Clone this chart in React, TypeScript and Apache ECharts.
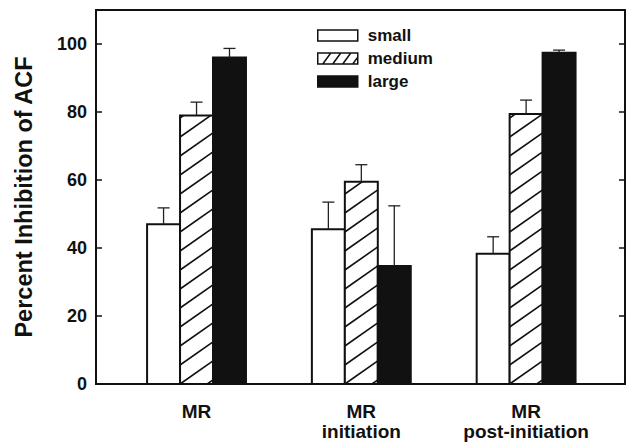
import { useEffect, useRef } from 'react';
import * as echarts from 'echarts';

const categories = ['MR', 'MR\ninitiation', 'MR\npost-initiation'];
const sizeNames = ['small', 'medium', 'large'];
const smallValues = [47, 45.5, 38.3];
const smallErrors = [4.8, 8, 5];
const mediumValues = [79, 59.5, 79.4];
const mediumErrors = [3.9, 5, 4.1];
const largeValues = [96, 34.7, 97.4];
const largeErrors = [2.7, 17.7, 0.8];

const seriesValues = [smallValues, mediumValues, largeValues];
const seriesErrors = [smallErrors, mediumErrors, largeErrors];

const SLOT = 0.2;
const FONT = '"Liberation Sans", Arial, Helvetica, sans-serif';
const INK = '#111';

function makeRender(sizeIndex: number) {
  return (params: any, api: any) => {
    const x = api.value(0);
    const v = api.value(1);
    const e = api.value(2);
    const c = x + (sizeIndex - 1) * SLOT;
    const tl = api.coord([c - SLOT / 2, v]);
    const br = api.coord([c + SLOT / 2, 0]);
    const top = api.coord([c, v + e]);
    const x0 = tl[0], x1 = br[0], y0 = tl[1], y1 = br[1];
    const children: any[] = [];
    children.push({
      type: 'rect',
      shape: { x: x0, y: y0, width: x1 - x0, height: y1 - y0 },
      style: { fill: sizeIndex === 2 ? INK : '#fff', stroke: INK, lineWidth: 2 },
    });
    if (sizeIndex === 1) {
      const k = 0.7;
      const sp = 19;
      const w = x1 - x0;
      for (let cc = y1 + Math.ceil((k * w) / sp) * sp; cc >= y0; cc -= sp) {
        const xa = Math.max(x0, x0 + (cc - y1) / k);
        const xb = Math.min(x1, x0 + (cc - y0) / k);
        if (xb - xa > 0.5) {
          children.push({
            type: 'line',
            shape: { x1: xa, y1: cc - k * (xa - x0), x2: xb, y2: cc - k * (xb - x0) },
            style: { stroke: INK, lineWidth: 1.6 },
          });
        }
      }
    }
    children.push({
      type: 'line',
      shape: { x1: top[0], y1: y0, x2: top[0], y2: top[1] },
      style: { stroke: '#222', lineWidth: 1.3 },
    });
    children.push({
      type: 'line',
      shape: { x1: top[0] - 6, y1: top[1], x2: top[0] + 6, y2: top[1] },
      style: { stroke: '#222', lineWidth: 1.3 },
    });
    return { type: 'group', children };
  };
}

const hatchIcon =
  'path://M0,0H40V11H0Z M5,11L13,0 M15,11L23,0 M25,11L33,0 M35,11L40,4.1';

export default function App() {
  const ref = useRef<HTMLDivElement>(null);
  useEffect(() => {
    if (!ref.current) return;
    const chart = echarts.init(ref.current, null, { renderer: 'svg' });
    const option: any = {
      animation: false,
      backgroundColor: '#fff',
      grid: {
        left: 96,
        right: 4,
        top: 10,
        bottom: 63,
        show: true,
        borderColor: INK,
        borderWidth: 2,
        backgroundColor: 'transparent',
      },
      legend: {
        orient: 'vertical',
        left: 312,
        top: 22,
        itemWidth: 40,
        itemHeight: 11,
        itemGap: 6,
        textStyle: {
          fontFamily: FONT,
          fontWeight: 'bold',
          fontSize: 17,
          color: INK,
          padding: [0, 0, 0, 5],
        },
        data: [
          { name: 'small', icon: 'rect', itemStyle: { color: '#fff', borderColor: INK, borderWidth: 1.5 } },
          { name: 'medium', icon: hatchIcon, itemStyle: { color: '#fff', borderColor: INK, borderWidth: 1.5 } },
          { name: 'large', icon: 'rect', itemStyle: { color: INK, borderColor: INK, borderWidth: 1.5 } },
        ],
      },
      xAxis: {
        type: 'value',
        min: 0.39,
        max: 3.6,
        splitLine: { show: false },
        axisTick: { show: false },
        axisLine: { show: true, lineStyle: { color: INK, width: 2 } },
        axisLabel: {
          customValues: [1, 2, 3],
          formatter: (val: number) => categories[Math.round(val) - 1] ?? '',
          margin: 17,
          fontFamily: FONT,
          fontWeight: 'bold',
          fontSize: 19,
          lineHeight: 20,
          color: INK,
        },
      },
      yAxis: [
        {
          type: 'value',
          min: 0,
          max: 110,
          interval: 20,
          splitLine: { show: false },
          axisLine: { show: true, lineStyle: { color: INK, width: 2 } },
          axisTick: { show: true, inside: true, length: 6, lineStyle: { color: INK, width: 1.5 } },
          axisLabel: {
            showMaxLabel: false,
            formatter: (val: number) => (val > 100 ? '' : String(val)),
            margin: 9,
            fontFamily: FONT,
            fontWeight: 'bold',
            fontSize: 18,
            color: INK,
          },
          name: 'Percent Inhibition of ACF',
          nameLocation: 'middle',
          nameRotate: 90,
          nameGap: 60,
          nameTextStyle: {
            fontFamily: FONT,
            fontWeight: 'bold',
            fontSize: 23.5,
            color: INK,
          },
        },
        {
          type: 'value',
          position: 'right',
          min: 0,
          max: 110,
          interval: 20,
          splitLine: { show: false },
          axisLine: { show: true, lineStyle: { color: INK, width: 2 } },
          axisTick: { show: true, inside: true, length: 6, lineStyle: { color: INK, width: 1.5 } },
          axisLabel: { show: false },
        },
      ],
      series: sizeNames.map((name, s) => ({
        name,
        type: 'custom',
        xAxisIndex: 0,
        yAxisIndex: 0,
        itemStyle: { color: s === 2 ? INK : '#fff', borderColor: INK },
        encode: { x: 0, y: 1 },
        renderItem: makeRender(s),
        data: categories.map((_, i) => [i + 1, seriesValues[s][i], seriesErrors[s][i]]),
      })),
    };
    chart.setOption(option);
    return () => chart.dispose();
  }, []);
  return <div ref={ref} style={{ width: 629, height: 447, position: 'absolute', left: 0, top: 0 }} />;
}
